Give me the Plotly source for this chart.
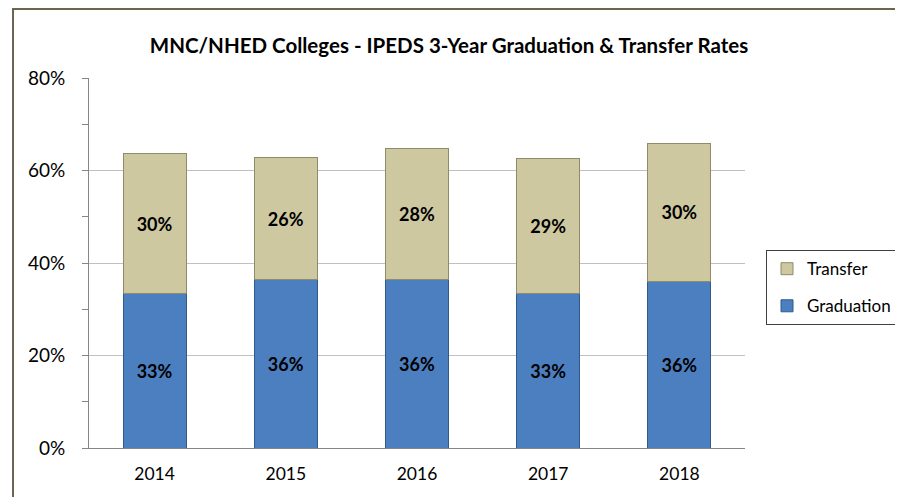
import plotly.graph_objects as go

years = ["2014", "2015", "2016", "2017", "2018"]
graduation = [33.3, 36.4, 36.4, 33.4, 36.1]
transfer = [30.4, 26.4, 28.4, 29.1, 29.8]
y_ticks = [0, 20, 40, 60, 80]

# page body has an 8px margin, so the figure is drawn 8px smaller and offset
OFF = 8
W, H = 903 - OFF, 497 - OFF
PX0, PX1 = 89 - OFF, 745 - OFF      # plot area left/right in figure px
PY0, PY1 = 78 - OFF, 447.7 - OFF    # plot area top/bottom in figure px
PW, PH = PX1 - PX0, PY1 - PY0

def px(x):
    return (x - OFF - PX0) / PW

def py(y):
    return (PY1 - (y - OFF)) / PH

label_font = dict(family="Lato", size=18, color="black", weight="bold")

fig = go.Figure()
fig.add_trace(go.Bar(
    x=years, y=graduation, name="Graduation",
    marker=dict(color="#4C7FC0", line=dict(color="#2F5A8C", width=1)),
    texttemplate="%{y:.0f}%", textposition="inside", insidetextanchor="middle",
    textfont=label_font, legendrank=2, legendgroup="grad", width=0.48,
))
fig.add_trace(go.Bar(
    x=years, y=transfer, name="Transfer",
    marker=dict(color="#CEC8A1", line=dict(color="#8E8A6A", width=1)),
    texttemplate="%{y:.0f}%", textposition="inside", insidetextanchor="middle",
    textfont=label_font, legendrank=1, legendgroup="trans", width=0.48,
))

fig.update_layout(
    width=W, height=H,
    margin=dict(l=PX0, r=W - PX1, t=PY0, b=H - PY1, autoexpand=False),
    barmode="stack",
    plot_bgcolor="white", paper_bgcolor="white",
    font=dict(family="Lato", size=17, color="black"),
    title=dict(
        text="MNC/NHED Colleges - IPEDS 3-Year Graduation & Transfer Rates",
        x=(449 - OFF) / W, xanchor="center", xref="container",
        y=1 - (46 - OFF) / H, yanchor="middle", yref="container",
        font=dict(family="Lato", size=20.5, color="black", weight="bold"),
    ),
    legend=dict(
        x=px(766), xanchor="left",
        y=py(250), yanchor="top",
        bordercolor="#404040", borderwidth=1,
        traceorder="grouped", tracegroupgap=12,
        font=dict(family="Lato", size=17, color="black"),
        itemwidth=30,
    ),
    uniformtext=dict(mode="show", minsize=10),
)
fig.update_yaxes(
    range=[0, 80], tickvals=y_ticks, ticktext=[f"{v}%" for v in y_ticks],
    showgrid=True, gridcolor="#C0C0C0", gridwidth=1,
    showline=True, linecolor="#868686", linewidth=1,
    ticks="outside", ticklen=6, tickcolor="#868686",
    minor=dict(tickvals=[10, 30, 50, 70], ticks="outside", ticklen=6,
               tickcolor="#868686", showgrid=False),
    ticklabelstandoff=13, zeroline=False,
    tickfont=dict(family="Lato", size=19),
)
fig.update_xaxes(
    showline=True, linecolor="#868686", linewidth=1, ticks="",
    tickfont=dict(family="Lato", size=17.5), ticklabelstandoff=10,
)

fig.add_shape(
    type="rect", xref="paper", yref="paper",
    x0=px(13), x1=px(915), y0=py(515), y1=py(9),
    line=dict(color="#6B6650", width=2), fillcolor="rgba(0,0,0,0)", layer="below",
)

fig.write_html("out.html")
